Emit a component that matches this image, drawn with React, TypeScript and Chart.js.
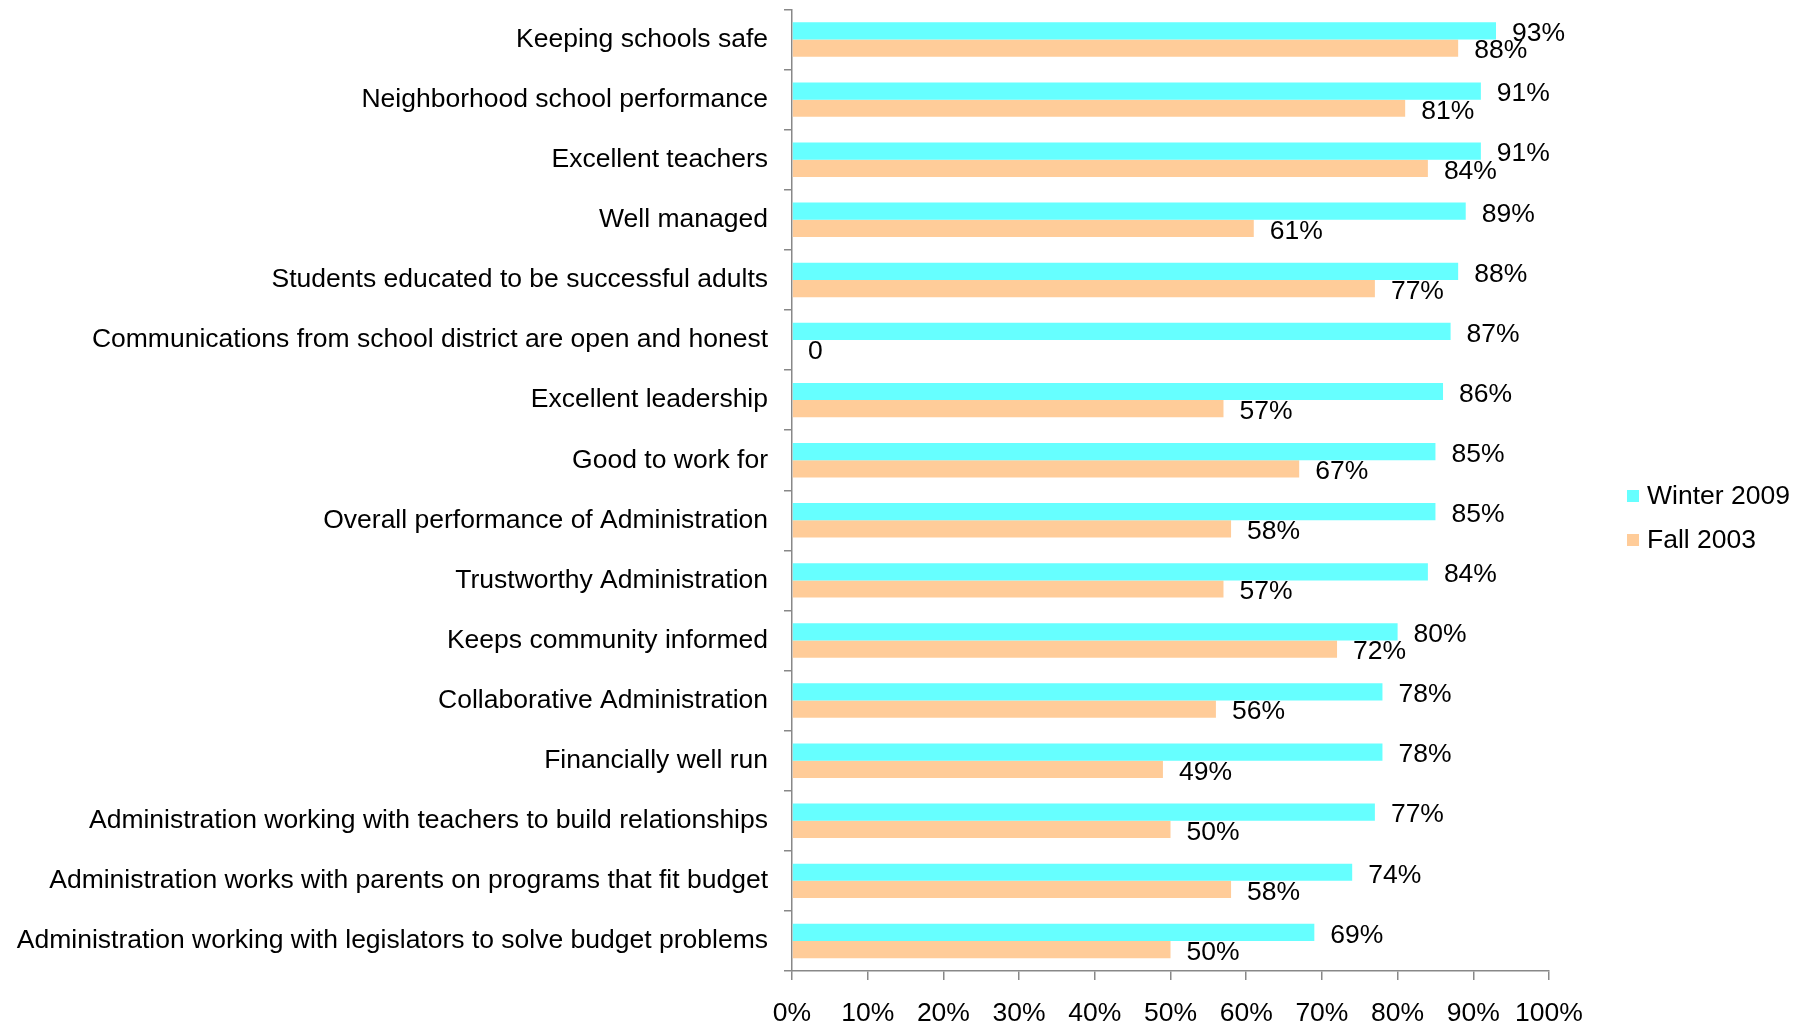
import React, { useEffect, useRef } from "react";
import { Chart, registerables } from "chart.js";

Chart.register(...registerables);

const categories = [
  "Keeping schools safe",
  "Neighborhood school performance",
  "Excellent teachers",
  "Well managed",
  "Students educated to be successful adults",
  "Communications from school district are open and honest",
  "Excellent leadership",
  "Good to work for",
  "Overall performance of Administration",
  "Trustworthy Administration",
  "Keeps community informed",
  "Collaborative Administration",
  "Financially well run",
  "Administration working with teachers to build relationships",
  "Administration works with parents on programs that fit budget",
  "Administration working with legislators to solve budget problems",
];

const winter2009 = [93, 91, 91, 89, 88, 87, 86, 85, 85, 84, 80, 78, 78, 77, 74, 69];
const fall2003 = [88, 81, 84, 61, 77, 0, 57, 67, 58, 57, 72, 56, 49, 50, 58, 50];

const seriesNames = ["Winter 2009", "Fall 2003"];
const seriesColors = ["#66FFFF", "#FFCC99"];
const xTicks = [0, 10, 20, 30, 40, 50, 60, 70, 80, 90, 100];

const FONT = "'Liberation Sans', Arial, sans-serif";
const FS = 26.5;

const dataLabels = {
  id: "dataLabels",
  afterDatasetsDraw(chart: any) {
    const ctx = chart.ctx;
    ctx.save();
    ctx.font = `${FS}px ${FONT}`;
    ctx.fillStyle = "#000";
    ctx.textAlign = "left";
    ctx.textBaseline = "middle";
    chart.data.datasets.forEach((ds: any, di: number) => {
      const meta = chart.getDatasetMeta(di);
      meta.data.forEach((bar: any, i: number) => {
        const v = ds.data[i];
        const txt = v === 0 ? "0" : `${v}%`;
        ctx.fillText(txt, bar.x + 16, bar.y + 3);
      });
    });
    ctx.restore();
  },
};

const customLegend = {
  id: "customLegend",
  afterDraw(chart: any) {
    const ctx = chart.ctx;
    ctx.save();
    ctx.font = `${FS}px ${FONT}`;
    ctx.textAlign = "left";
    ctx.textBaseline = "middle";
    const x = chart.chartArea.right + 78;
    const y0 = 496;
    chart.data.datasets.forEach((ds: any, i: number) => {
      const y = y0 + i * 44;
      ctx.fillStyle = ds.backgroundColor;
      ctx.fillRect(x, y - 6, 12, 12);
      ctx.fillStyle = "#000";
      ctx.fillText(ds.label, x + 20, y + 1);
    });
    ctx.restore();
  },
};

export default function App() {
  const ref = useRef<HTMLCanvasElement | null>(null);

  useEffect(() => {
    if (!ref.current) return;
    Chart.defaults.font.family = FONT;
    const chart = new Chart(ref.current, {
      type: "bar",
      data: {
        labels: categories,
        datasets: [
          {
            label: seriesNames[0],
            data: winter2009,
            backgroundColor: seriesColors[0],
            borderWidth: 0,
            barPercentage: 1,
            categoryPercentage: 0.573,
          },
          {
            label: seriesNames[1],
            data: fall2003,
            backgroundColor: seriesColors[1],
            borderWidth: 0,
            barPercentage: 1,
            categoryPercentage: 0.573,
          },
        ],
      },
      options: {
        indexAxis: "y",
        responsive: false,
        animation: false,
        layout: { padding: { top: 9.5, right: 257, left: 0, bottom: 0 } },
        plugins: {
          legend: { display: false },
          tooltip: { enabled: false },
        },
        scales: {
          y: {
            type: "category",
            border: { display: true, color: "#888888", width: 1.5 },
            grid: {
              offset: true,
              drawOnChartArea: false,
              drawTicks: true,
              tickLength: 8,
              color: "#888888",
              lineWidth: 1.5,
            },
            ticks: {
              color: "#000",
              font: { size: FS, family: FONT },
              padding: 16,
              autoSkip: false,
            },
            afterFit(scale: any) {
              scale.width = 792;
              scale.paddingTop = 0;
              scale.paddingBottom = 0;
            },
          },
          x: {
            type: "linear",
            min: 0,
            max: 100,
            border: { display: true, color: "#888888", width: 1.5 },
            grid: {
              drawOnChartArea: false,
              drawTicks: true,
              tickLength: 9,
              color: "#888888",
              lineWidth: 1.5,
            },
            afterBuildTicks(scale: any) {
              scale.ticks = xTicks.map((v) => ({ value: v }));
            },
            ticks: {
              color: "#000",
              font: { size: FS, family: FONT },
              padding: 18,
              maxRotation: 0,
              autoSkip: false,
              callback: (v: any) => `${v}%`,
            },
            afterFit(scale: any) {
              scale.height = 53;
            },
          },
        },
      },
      plugins: [dataLabels, customLegend],
    });
    return () => chart.destroy();
  }, []);

  return (
    <div style={{ position: "fixed", left: 0, top: 0, width: 1806, height: 1024, background: "#fff" }}>
      <canvas ref={ref} width={1806} height={1024} />
    </div>
  );
}
